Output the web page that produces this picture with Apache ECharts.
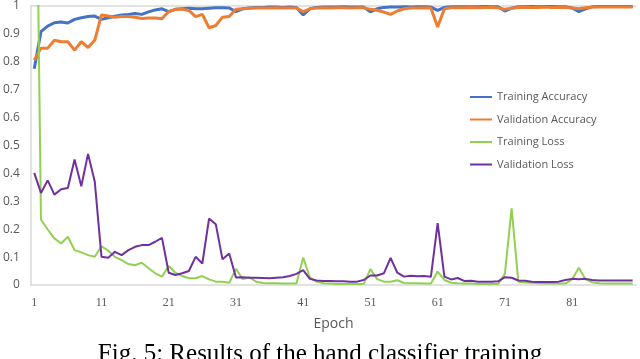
<!DOCTYPE html>
<html>
<head>
<meta charset="utf-8">
<script src="https://cdn.jsdelivr.net/npm/echarts@6/dist/echarts.min.js"></script>
<style>
  html, body { margin: 0; padding: 0; background: #fff; }
  #chart { width: 640px; height: 359px; }
</style>
</head>
<body>
<div id="chart"></div>
<script>
// epochs 1..90 (category labels)
const epochs = Array.from({ length: 90 }, (_, i) => String(i + 1));

const trainAcc = [
  0.775, 0.908, 0.928, 0.94, 0.943, 0.939, 0.952, 0.958, 0.962, 0.964,
  0.952, 0.958, 0.963, 0.968, 0.97, 0.973, 0.97, 0.979, 0.986, 0.99,
  0.98, 0.988, 0.99, 0.992, 0.99, 0.99, 0.992, 0.994, 0.994, 0.993,
  0.98, 0.99, 0.993, 0.995, 0.995, 0.996, 0.996, 0.995, 0.996, 0.995,
  0.968, 0.99, 0.995, 0.996, 0.996, 0.996, 0.997, 0.996, 0.996, 0.996,
  0.979, 0.99, 0.995, 0.996, 0.996, 0.997, 0.996, 0.997, 0.997, 0.996,
  0.984, 0.995, 0.997, 0.997, 0.997, 0.997, 0.997, 0.998, 0.997, 0.997,
  0.982, 0.992, 0.997, 0.997, 0.998, 0.997, 0.998, 0.998, 0.997, 0.997,
  0.993, 0.98, 0.99, 0.997, 0.998, 0.998, 0.998, 0.998, 0.998, 0.998
];

const valAcc = [
  0.806, 0.849, 0.849, 0.877, 0.872, 0.872, 0.842, 0.872, 0.851, 0.877,
  0.968, 0.964, 0.96, 0.962, 0.962, 0.96, 0.955, 0.957, 0.957, 0.954,
  0.98, 0.988, 0.988, 0.984, 0.962, 0.97, 0.922, 0.93, 0.96, 0.962,
  0.988, 0.99, 0.992, 0.993, 0.993, 0.993, 0.994, 0.993, 0.993, 0.993,
  0.98, 0.99, 0.993, 0.994, 0.993, 0.994, 0.994, 0.993, 0.994, 0.994,
  0.988, 0.985, 0.978, 0.97, 0.982, 0.99, 0.993, 0.993, 0.994, 0.993,
  0.925, 0.99, 0.994, 0.994, 0.994, 0.995, 0.994, 0.995, 0.995, 0.994,
  0.988, 0.992, 0.995, 0.995, 0.995, 0.995, 0.996, 0.995, 0.995, 0.995,
  0.993, 0.99, 0.994, 0.996, 0.996, 0.996, 0.996, 0.996, 0.996, 0.996
];

const trainLoss = [
  2.2, 0.235, 0.199, 0.167, 0.149, 0.173, 0.125, 0.117, 0.107, 0.101,
  0.139, 0.123, 0.101, 0.089, 0.075, 0.071, 0.08, 0.06, 0.042, 0.03,
  0.068, 0.044, 0.032, 0.024, 0.024, 0.032, 0.02, 0.012, 0.012, 0.008,
  0.058, 0.021, 0.027, 0.012, 0.007, 0.006, 0.006, 0.005, 0.005, 0.005,
  0.098, 0.027, 0.012, 0.006, 0.005, 0.004, 0.004, 0.004, 0.004, 0.004,
  0.057, 0.021, 0.012, 0.012, 0.017, 0.007, 0.006, 0.006, 0.005, 0.005,
  0.048, 0.018, 0.008, 0.006, 0.005, 0.005, 0.004, 0.004, 0.004, 0.004,
  0.04, 0.275, 0.012, 0.009, 0.008, 0.006, 0.005, 0.005, 0.005, 0.005,
  0.02, 0.062, 0.02, 0.01, 0.006, 0.005, 0.005, 0.005, 0.005, 0.005
];

const valLoss = [
  0.402, 0.33, 0.375, 0.324, 0.343, 0.348, 0.45, 0.354, 0.47, 0.371,
  0.101, 0.098, 0.119, 0.107, 0.125, 0.137, 0.143, 0.143, 0.155, 0.169,
  0.044, 0.036, 0.042, 0.05, 0.101, 0.077, 0.238, 0.218, 0.092, 0.113,
  0.027, 0.028, 0.026, 0.026, 0.025, 0.024, 0.026, 0.028, 0.032, 0.04,
  0.053, 0.022, 0.016, 0.014, 0.014, 0.013, 0.013, 0.012, 0.012, 0.018,
  0.034, 0.034, 0.042, 0.097, 0.044, 0.03, 0.033, 0.031, 0.032, 0.03,
  0.222, 0.03, 0.02, 0.025, 0.014, 0.015, 0.012, 0.012, 0.012, 0.013,
  0.028, 0.026, 0.016, 0.015, 0.012, 0.011, 0.011, 0.011, 0.012, 0.018,
  0.022, 0.021, 0.022, 0.018, 0.016, 0.016, 0.016, 0.016, 0.016, 0.016
];

const seriesNames = ['Training Accuracy', 'Validation Accuracy', 'Training Loss', 'Validation Loss'];
const caption = 'Fig. 5: Results of the hand classifier training';

const chart = echarts.init(document.getElementById('chart'), null, { renderer: 'canvas' });

const axisGray = '#d9d9d9';
const textGray = '#595959';

function lineSeries(name, data, color, width) {
  return {
    name: name,
    type: 'line',
    data: data,
    symbol: 'none',
    clip: true,
    lineStyle: { color: color, width: width },
    itemStyle: { color: color }
  };
}

chart.setOption({
  animation: false,
  backgroundColor: '#fff',
  grid: { left: 29, right: 4, top: 5, bottom: 74 },
  legend: {
    orient: 'vertical',
    left: 469,
    top: 91,
    padding: 0,
    itemWidth: 22,
    itemHeight: 12,
    itemGap: 10.5,
    data: seriesNames,
    // hide the circle marker, keep only the line
    itemStyle: { opacity: 0 },
    textStyle: { color: textGray, fontSize: 11, lineHeight: 12, fontFamily: 'Open Sans' }
  },
  xAxis: [
    {
      type: 'category',
      data: epochs,
      boundaryGap: true,
      axisLine: { lineStyle: { color: axisGray, width: 1.5 } },
      axisTick: { show: false },
      axisLabel: {
        interval: 9,
        color: textGray,
        fontSize: 12,
        fontFamily: 'Liberation Serif',
        margin: 12
      },
      name: 'Epoch',
      nameLocation: 'middle',
      nameGap: 32,
      nameTextStyle: { color: textGray, fontSize: 14, fontFamily: 'Open Sans' }
    },
    {
      type: 'category',
      data: epochs,
      position: 'top',
      axisLine: { lineStyle: { color: axisGray, width: 1.5 } },
      axisTick: { show: false },
      axisLabel: { show: false }
    }
  ],
  yAxis: {
    type: 'value',
    min: 0,
    max: 1,
    interval: 0.1,
    splitLine: { show: false },
    axisLine: { show: true, lineStyle: { color: axisGray, width: 1.5 } },
    axisTick: { show: false },
    axisLabel: {
      color: textGray,
      fontSize: 12,
      fontFamily: 'Open Sans',
      margin: 11,
      formatter: v => String(+v.toFixed(1))
    }
  },
  graphic: [{
    type: 'text',
    left: 'center',
    top: 342,
    style: {
      text: caption,
      font: '25px "Liberation Serif"',
      fill: '#000'
    }
  }],
  series: [
    lineSeries(seriesNames[0], trainAcc, '#4472C4', 3),
    lineSeries(seriesNames[1], valAcc, '#ED7D31', 3),
    lineSeries(seriesNames[2], trainLoss, '#92D050', 2),
    lineSeries(seriesNames[3], valLoss, '#7030A0', 2)
  ]
});
</script>
</body>
</html>
